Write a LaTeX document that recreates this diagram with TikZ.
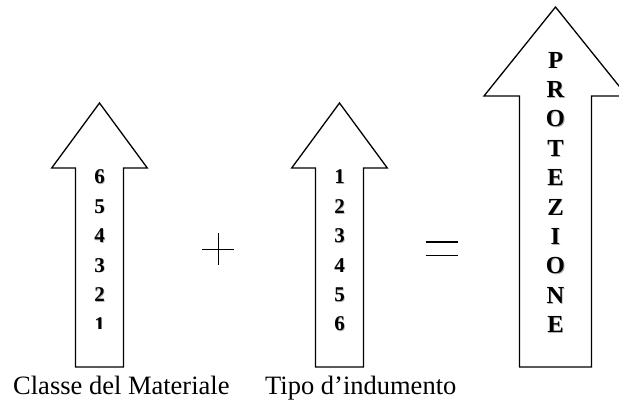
\documentclass[tikz,border=0pt]{standalone}
\usepackage{fontspec}
\setmainfont{Liberation Serif}
\tikzset{
  arrowshape/.style={draw=black, line width=1.3pt, fill=white, line join=miter},
  digit/.style={font=\fontsize{21}{21}\selectfont\bfseries, inner sep=0pt},
  letter/.style={font=\fontsize{24.5}{24.5}\selectfont\bfseries, inner sep=0pt},
  shade/.style={text=black!30},
  caption/.style={font=\fontsize{26.5}{26.5}\selectfont, inner sep=0pt, anchor=base west},
  sign/.style={line width=1.3pt}
}
\begin{document}
\begin{tikzpicture}[x=1pt,y=-1pt]
\useasboundingbox (0,0) rectangle (619,403);
\clip (0,0) rectangle (619,403);
% arrows
\draw[arrowshape] (99.5,103) -- (147.3,168) -- (123.5,168) -- (123.5,367) -- (75.5,367) -- (75.5,168) -- (51.7,168) -- cycle;
\draw[arrowshape] (339.5,103) -- (387.3,168) -- (363.5,168) -- (363.5,367) -- (315.5,367) -- (315.5,168) -- (291.7,168) -- cycle;
\draw[arrowshape] (555.5,7) -- (627,96) -- (591.5,96) -- (591.5,367) -- (519.5,367) -- (519.5,96) -- (484,96) -- cycle;
% digits of the first arrow
\foreach \d [count=\i] in {6,5,4,3,2} {
  \node[digit,shade] at (100.3,177.8+29.4*\i-29.4) {\d};
  \node[digit] (ca\i) at (99.5,177+29.4*\i-29.4) {\d};
}
\begin{scope}
  \clip (60,300) rectangle (140,328.5);
  \node[digit,shade] at (100.3,325.8) {1};
  \node[digit] (ca6) at (99.5,325) {1};
\end{scope}
% digits of the second arrow
\foreach \d [count=\i] in {1,2,3,4,5,6} {
  \node[digit,shade] at (340.3,177.8+29.4*\i-29.4) {\d};
  \node[digit] (tb\i) at (339.5,177+29.4*\i-29.4) {\d};
}
% letters of the third arrow
\foreach \l [count=\i] in {P,R,O,T,E,Z,I,O,N,E} {
  \node[letter,shade] at (556.3,60.8+29.4*\i-29.4) {\l};
  \node[letter] (pr\i) at (555.5,60+29.4*\i-29.4) {\l};
}
% signs
\draw[sign] (202.3,249.3) -- (234.3,249.3);
\draw[sign] (218.3,233.3) -- (218.3,265.3);
\draw[sign] (425.7,242) -- (458.3,242);
\draw[sign] (425.7,255.7) -- (458.3,255.7);
% captions
\node[caption] (cap1) at (13,395) {Classe del Materiale};
\node[caption] (cap2) at (265,395) {Tipo d’indumento};
\end{tikzpicture}
\end{document}
